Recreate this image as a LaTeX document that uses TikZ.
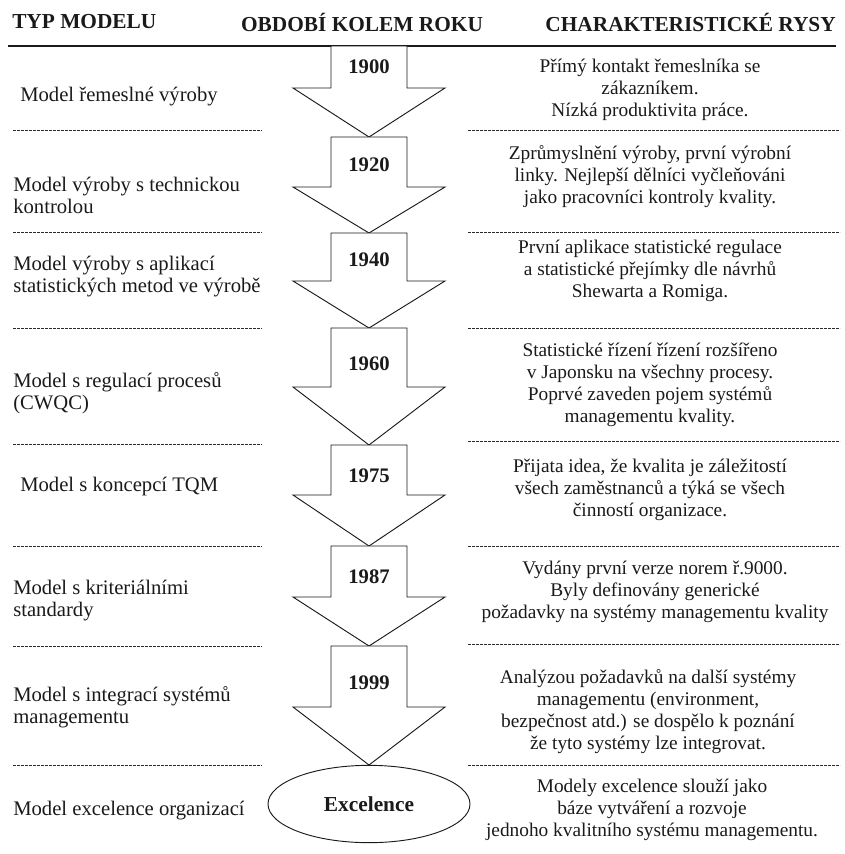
\documentclass[tikz,border=0pt]{standalone}
\usepackage{fontspec}
\setmainfont{Liberation Serif}
\usetikzlibrary{shapes.geometric}
\definecolor{Ink}{HTML}{1A1A1A}
\definecolor{DashGray}{HTML}{2A2A2A}
\NewDocumentCommand{\YearArrow}{O{(0,0)} m m m m m}{
    \begin{scope}[shift={#1}]
    \draw[arrowbody] (-38,0) -- (38,0) -- (38,#3) -- (76,#3) -- (0,#4)
        -- (-76,#3) -- (-38,#3) -- cycle;
    \node[yearlabel] (#2) at (0,#6) {#5};
    \end{scope}
}

\begin{document}
\begin{tikzpicture}[x=0.75pt, y=-0.75pt,
    arrowbody/.style={draw=Ink, line width=0.7pt, fill=white, line join=miter},
    yearlabel/.style={font=\fontsize{15.5}{16.5}\selectfont\bfseries, text=Ink, inner sep=0pt},
    headlabel/.style={font=\fontsize{16}{17}\selectfont\bfseries, text=Ink, inner sep=0pt},
    modellabel/.style={anchor=west, align=left, font=\fontsize{15.5}{16.5}\selectfont, text=Ink, inner sep=0pt},
    featurelabel/.style={align=center, font=\fontsize{14.5}{16.5}\selectfont, text=Ink, inner sep=0pt},
    separator/.style={DashGray, line width=0.6pt, dash pattern=on 2pt off 1pt}]
\useasboundingbox (0,0) rectangle (845,854);

% headings
\node[headlabel, anchor=west] (hType) at (12,22) {TYP MODELU};
\node[headlabel] (hPeriod) at (362,22) {OBDOBÍ KOLEM ROKU};
\node[headlabel, anchor=east] (hFeature) at (836,22) {CHARAKTERISTICKÉ RYSY};
\draw[Ink, line width=1.3pt] (8,46) -- (836,46);

% time axis
\YearArrow[(369,46)]{y1900}{42}{91}{1900}{21}
\YearArrow[(369,137)]{y1920}{50}{96}{1920}{28}
\YearArrow[(369,233)]{y1940}{48}{95}{1940}{27}
\YearArrow[(369,328)]{y1960}{59}{117}{1960}{36}
\YearArrow[(369,445)]{y1975}{50}{101}{1975}{31}
\YearArrow[(369,546)]{y1987}{51}{100}{1987}{31}
\YearArrow[(369,646)]{y1999}{61}{119}{1999}{37}
\node[ellipse, draw=Ink, line width=0.7pt, minimum width=151.5pt, minimum height=58pt,
    font=\fontsize{16}{17}\selectfont\bfseries, text=Ink, inner sep=0pt] (excel) at (369,804) {Excelence};

% separators
\foreach \yl/\yr in {130/130, 232/232, 328/328, 444/441, 546/546, 646/644, 765/765}{
    \draw[separator] (13,\yl) -- (262,\yl);
    \draw[separator] (468,\yr) -- (840,\yr);
}

% model types
\node[modellabel] (m1) at (20,97) {Model řemeslné výroby};
\node[modellabel] (m2) at (13,195) {Model výroby s technickou\\kontrolou};
\node[modellabel] (m3) at (13,277) {Model výroby s aplikací\\statistických metod ve výrobě};
\node[modellabel] (m4) at (13,393) {Model s regulací procesů\\(CWQC)};
\node[modellabel] (m5) at (20,487) {Model s koncepcí TQM};
\node[modellabel] (m6) at (13,601) {Model s kriteriálními\\standardy};
\node[modellabel] (m7) at (13,707) {Model s integrací systémů\\managementu};
\node[modellabel] (m8) at (13,811) {Model excelence organizací};

% features
\node[featurelabel] (f1) at (650,90) {Přímý kontakt řemeslníka se\\zákazníkem.\\Nízká produktivita práce.};
\node[featurelabel] (f2) at (650,177) {Zprůmyslnění výroby, první výrobní\\linky. Nejlepší dělníci vyčleňováni\\jako pracovníci kontroly kvality.};
\node[featurelabel] (f3) at (650,271) {První aplikace statistické regulace\\a statistické přejímky dle návrhů\\Shewarta a Romiga.};
\node[featurelabel] (f4) at (650,385) {Statistické řízení řízení rozšířeno\\v Japonsku na všechny procesy.\\Poprvé zaveden pojem systémů\\managementu kvality.};
\node[featurelabel] (f5) at (650,490) {Přijata idea, že kvalita je záležitostí\\všech zaměstnanců a týká se všech\\činností organizace.};
\node[featurelabel] (f6) at (655,592) {Vydány první verze norem ř.9000.\\Byly definovány generické\\požadavky na systémy managementu kvality};
\node[featurelabel] (f7) at (648,712) {Analýzou požadavků na další systémy\\managementu (environment,\\bezpečnost atd.) se dospělo k poznání\\že tyto systémy lze integrovat.};
\node[featurelabel] (f8) at (652,810) {Modely excelence slouží jako\\báze vytváření a rozvoje\\jednoho kvalitního systému managementu.};
\end{tikzpicture}
\end{document}
